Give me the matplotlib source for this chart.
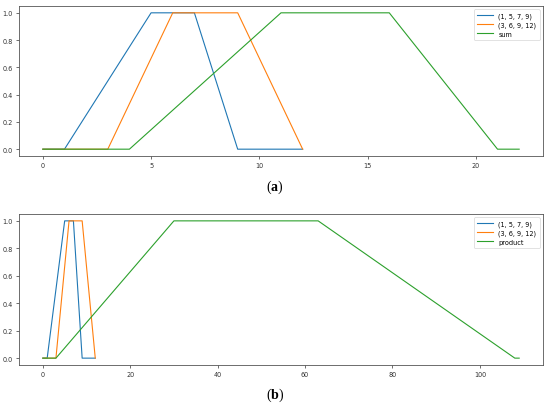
import matplotlib
matplotlib.use("Agg")
import matplotlib.pyplot as plt

# ----------------------------
# Data: trapezoidal fuzzy numbers and their sum / product
# ----------------------------
x_a = [0, 1, 5, 7, 9, 12]
y_a = [0, 0, 1, 1, 0, 0]
x_b = [0, 3, 6, 9, 12]
y_b = [0, 0, 1, 1, 0]

x_sum = [0, 4, 11, 16, 21, 22]
y_sum = [0, 0, 1, 1, 0, 0]

x_prod = [0, 3, 30, 63, 108, 109]
y_prod = [0, 0, 1, 1, 0, 0]

label_a = "(1, 5, 7, 9)"
label_b = "(3, 6, 9, 12)"
captions = ["a", "b"]

plt.rcParams["mathtext.fontset"] = "custom"
plt.rcParams["mathtext.bf"] = "Liberation Serif:bold"
plt.rcParams["mathtext.rm"] = "Liberation Serif"

fig = plt.figure(figsize=(5.5, 4.06), dpi=100)
ax1 = fig.add_axes([19 / 550, 1 - 157 / 406, 524 / 550, 150 / 406])
ax2 = fig.add_axes([19 / 550, 1 - 366 / 406, 524 / 550, 151 / 406])

lw = 0.8
for ax, xs, ys, lab in [(ax1, x_sum, y_sum, "sum"), (ax2, x_prod, y_prod, "product")]:
    ax.plot(x_a, y_a, color="#1f77b4", lw=lw, label=label_a)
    ax.plot(x_b, y_b, color="#ff7f0e", lw=lw, label=label_b)
    ax.plot(xs, ys, color="#2ca02c", lw=lw, label=lab)
    ax.set_yticks([0.0, 0.2, 0.4, 0.6, 0.8, 1.0])
    ax.tick_params(labelsize=4.7, length=2.5, width=0.5, pad=2, colors="#333333")
    for sp in ax.spines.values():
        sp.set_linewidth(0.6)
        sp.set_color("#555555")
    leg = ax.legend(loc="upper right", fontsize=4.7, handlelength=2.5,
                    borderpad=0.5, labelspacing=0.4)
    leg.get_frame().set_linewidth(0.5)

ax1.set_xticks([0, 5, 10, 15, 20])
ax2.set_xticks([0, 20, 40, 60, 80, 100])

fig.text(0.5, 1 - 187 / 406, r"($\mathbf{%s}$)" % captions[0], ha="center", va="center",
         fontsize=10, family="Liberation Serif")
fig.text(0.5, 1 - 395 / 406, r"($\mathbf{%s}$)" % captions[1], ha="center", va="center",
         fontsize=10, family="Liberation Serif")

fig.savefig("out.png", dpi=100)
